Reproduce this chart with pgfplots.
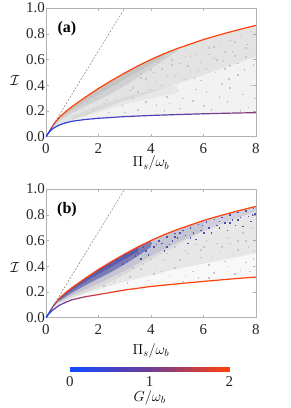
\documentclass[border=0pt]{standalone}
\usepackage{fix-cm}
\usepackage{fontspec}
\setmainfont{Liberation Serif}
\usepackage{pgfplots}
\pgfplotsset{compat=1.18}
\pgfplotsset{
  colormap={gb}{rgb255(0)=(20,75,255) rgb255(1)=(110,60,150) rgb255(2)=(255,65,10)},
  common/.style={scale only axis, width=210pt, height=128.7pt, anchor=south west,
    xmin=0, xmax=8, ymin=0, ymax=1,
    xtick={0,2,4,6,8}, ytick={0,0.2,0.4,0.6,0.8,1},
    y tick label style={/pgf/number format/.cd, fixed, fixed zerofill, precision=1, /tikz/.cd},
    /pgf/number format/assume math mode=true,
    tick label style={font=\fontsize{15}{17}\selectfont, text=black!85, inner sep=1pt},
    xticklabel style={yshift=-6pt},
    label style={font=\fontsize{14.5}{17}\selectfont},
    axis line style={gray!60}, tick style={gray!60, line width=0.4pt},
    tick align=inside, major tick length=3pt,
    point meta min=0, point meta max=2, colormap name=gb,
    xlabel={$\Pi_s/\omega_b$}, ylabel={$\mathcal{I}$},
  },
  gdot/.style={only marks, mark=square*, mark size=0.3pt, color=gray!45},
  bdot/.style={only marks, mark=square*, mark size=0.28pt, color=dblue!80},
  curve/.style={mesh, point meta=explicit, line width=1.2pt, line cap=round},
}
\definecolor{dblue}{RGB}{35,35,150}
\begin{document}
\begin{tikzpicture}
\path[use as bounding box] (0,0) rectangle (290pt,408pt);
% ---------------- panel (a)
\begin{axis}[common, at={(46pt,271.3pt)},
  xlabel style={at={(axis description cs:0.5,-0.207)}, anchor=center},
  ylabel style={at={(axis description cs:-0.148,0.44)}, rotate=-90, anchor=center}]
\addplot[fill=gray, fill opacity=0.10, draw=none] coordinates {(0,0)(0.1,0.033)(0.2,0.066)(0.3,0.097)(0.4,0.124)(0.5,0.148)(0.6,0.168)(0.75,0.195)(1,0.235)(1.5,0.307)(2,0.375)(2.5,0.437)(3,0.495)(3.5,0.55)(4,0.6)(4.5,0.645)(5,0.685)(5.5,0.72)(6,0.755)(6.5,0.785)(7,0.813)(7.5,0.84)(8,0.865)
 (8,0.187)(7,0.183)(6,0.178)(5,0.172)(4,0.165)(3,0.156)(2,0.143)(1.5,0.134)(1,0.12)(0.75,0.108)(0.5,0.09)(0.3,0.068)(0.2,0.052)(0.1,0.03)(0,0)};
\addplot[fill=gray, fill opacity=0.13, draw=none] coordinates {(0.3,0.097)(0.4,0.124)(0.5,0.148)(0.6,0.168)(0.75,0.195)(1,0.235)(1.5,0.307)(2,0.375)(2.5,0.437)(3,0.495)(3.5,0.55)(4,0.6)(4.5,0.645)(5,0.685)(5.5,0.72)(6,0.755)(6.5,0.785)(7,0.813)(7.5,0.84)(8,0.865)
 (8,0.62)(7,0.55)(6,0.48)(5,0.41)(4,0.345)(3,0.28)(2.5,0.245)(2,0.205)(1.5,0.165)(1,0.13)(0.5,0.092)(0.3,0.07)};
\addplot[fill=gray, fill opacity=0.18, draw=none] coordinates {(0.3,0.097)(0.4,0.124)(0.5,0.148)(0.6,0.168)(0.75,0.195)(1,0.235)(1.5,0.307)(2,0.375)(2.5,0.437)(3,0.495)(3.5,0.55)(4,0.6)(4.5,0.645)(5,0.685)
 (5,0.665)(4.5,0.595)(4,0.53)(3.5,0.46)(3,0.395)(2.5,0.337)(2,0.285)(1.5,0.237)(1,0.185)(0.5,0.123)(0.3,0.087)};
\addplot[fill=gray, fill opacity=0.16, draw=none] coordinates {(0.3,0.097)(0.4,0.124)(0.5,0.148)(0.6,0.168)(0.75,0.195)(1,0.235)(1.5,0.307)(2,0.375)(2.5,0.437)(3,0.495)(3.5,0.55)(4,0.6)(4.5,0.645)
 (4.5,0.62)(4,0.565)(3.5,0.505)(3,0.445)(2.5,0.387)(2,0.33)(1.5,0.272)(1,0.21)(0.5,0.135)(0.3,0.092)};
\addplot[fill=gray, fill opacity=0.10, draw=none] coordinates {(1,0.13)(2,0.19)(3,0.25)(4,0.30)(5,0.34)(5,0.40)(4,0.36)(3,0.31)(2,0.24)(1,0.16)};
\addplot[gdot] coordinates {(4.2,0.25)(4.6,0.31)(5.1,0.22)(5.3,0.45)(5.6,0.28)(5.8,0.52)(6.1,0.35)(6.3,0.21)(6.5,0.60)(6.7,0.41)(6.9,0.27)(7.1,0.66)(7.3,0.48)(7.5,0.33)(7.7,0.23)(7.9,0.56)(7.2,0.74)(6.4,0.70)(5.5,0.63)(4.8,0.56)(4.4,0.40)(3.8,0.27)(3.5,0.21)(3.2,0.36)(2.9,0.24)(2.6,0.30)(2.4,0.19)(3.6,0.46)(4.0,0.52)(5.0,0.36)(5.9,0.44)(6.8,0.53)(7.6,0.62)(7.8,0.40)(7.4,0.20)(6.0,0.24)(5.2,0.30)(4.5,0.20)(3.0,0.19)(2.2,0.26)(1.8,0.21)(6.6,0.31)(7.0,0.38)(5.7,0.37)(4.9,0.47)(4.3,0.58)(3.9,0.43)(3.3,0.30)(6.2,0.64)(7.85,0.78)(7.95,0.30)(7.3,0.57)(6.95,0.45)(5.4,0.55)(4.7,0.26)(2.7,0.41)(3.4,0.50)(6.45,0.50)(5.95,0.69)(7.65,0.72)
 (1.6,0.27)(1.9,0.30)(2.1,0.33)(2.3,0.28)(2.5,0.36)(2.8,0.40)(3.1,0.43)(3.3,0.38)(3.6,0.49)(3.8,0.45)(4.1,0.50)(4.4,0.53)(4.6,0.47)(4.8,0.60)(5.1,0.57)(5.3,0.62)(5.5,0.51)(5.7,0.64)(5.9,0.58)(6.2,0.69)(6.4,0.61)(6.6,0.72)(6.8,0.66)(7.0,0.75)(7.2,0.63)(7.4,0.78)(7.6,0.69)(7.8,0.82)(7.9,0.64)(6.1,0.53)(7.0,0.55)(5.0,0.50)(4.2,0.44)(3.5,0.35)(2.9,0.33)(7.55,0.52)(6.75,0.59)(5.65,0.46)(4.65,0.40)(3.95,0.37)};
\addplot[gray, dash pattern=on 2pt off 1.5pt, line width=0.5pt] coordinates {(0,0) (3,1)};
\addplot[curve] coordinates {(0,0)[1](0.1,0.033)[1.2](0.2,0.066)[1.4](0.3,0.097)[1.6](0.4,0.124)[1.8](0.5,0.148)[1.9](0.6,0.168)[1.95](0.75,0.195)[2](1,0.235)[2](1.5,0.307)[2](2,0.375)[2](2.5,0.437)[2](3,0.495)[2](3.5,0.55)[2](4,0.6)[2](4.5,0.645)[2](5,0.685)[2](5.5,0.72)[2](6,0.755)[2](6.5,0.785)[2](7,0.813)[2](7.5,0.84)[2](8,0.865)[2]};
\addplot[curve] coordinates {(0,0)[0](0.1,0.03)[0.05](0.2,0.052)[0.1](0.3,0.068)[0.14](0.5,0.09)[0.2](0.75,0.108)[0.28](1,0.12)[0.35](1.5,0.134)[0.43](2,0.143)[0.5](3,0.156)[0.6](4,0.165)[0.7](5,0.172)[0.85](6,0.178)[1.0](7,0.183)[1.1](8,0.187)[1.2]};
\node[font=\bfseries\fontsize{16}{18}\selectfont] at (axis cs:0.8,0.84) {(a)};
\end{axis}
% ---------------- panel (b)
\begin{axis}[common, at={(46pt,90.3pt)},
  xlabel style={at={(axis description cs:0.5,-0.255)}, anchor=center},
  ylabel style={at={(axis description cs:-0.148,0.386)}, rotate=-90, anchor=center}]
\addplot[fill=gray, fill opacity=0.06, draw=none] coordinates {(0.3,0.097)(0.4,0.124)(0.5,0.148)(0.6,0.168)(0.75,0.195)(1,0.235)(1.5,0.307)(2,0.375)(2.5,0.437)(3,0.495)(3.5,0.55)(4,0.6)(4.5,0.645)(5,0.685)(5.5,0.72)(6,0.755)(6.5,0.785)(7,0.813)(7.5,0.84)(8,0.865)
 (8,0.316)(7,0.3)(6,0.282)(5,0.263)(4,0.243)(3,0.215)(2,0.18)(1.5,0.163)(1,0.14)(0.75,0.12)(0.5,0.095)(0.3,0.07)};
\addplot[fill=gray, fill opacity=0.14, draw=none] coordinates {(0.3,0.097)(0.4,0.124)(0.5,0.148)(0.6,0.168)(0.75,0.195)(1,0.235)(1.5,0.307)(2,0.375)(2.5,0.437)(3,0.495)(3.5,0.55)(4,0.6)(4.5,0.645)(5,0.685)(5.5,0.72)(6,0.755)(6.5,0.785)(7,0.813)(7.5,0.84)(8,0.865)
 (8,0.5)(7,0.46)(6,0.42)(5,0.38)(4,0.33)(3,0.28)(2,0.22)(1.5,0.19)(1,0.155)(0.5,0.105)(0.3,0.075)};
\addplot[fill=gray, fill opacity=0.12, draw=none] coordinates {(0.5,0.148)(0.6,0.168)(0.75,0.195)(1,0.235)(1.5,0.307)(2,0.375)(2.5,0.437)(3,0.495)(3.5,0.55)(4,0.6)(4.5,0.645)(5,0.685)(5.5,0.72)(6,0.755)
 (6,0.675)(5,0.565)(4,0.45)(3,0.335)(2,0.235)(1.5,0.197)(1,0.155)(0.5,0.118)};
\addplot[fill=dblue, fill opacity=0.12, draw=none] coordinates {(0.5,0.148)(0.6,0.168)(0.75,0.195)(1,0.235)(1.5,0.307)(2,0.375)(2.5,0.437)(3,0.495)(3.5,0.55)(4,0.6)(4.5,0.645)(5,0.685)(5.5,0.72)(6,0.755)(6.5,0.785)(7,0.813)(7.5,0.84)(8,0.865)
 (8,0.825)(7,0.753)(6,0.675)(5,0.585)(4,0.48)(3,0.365)(2,0.265)(1,0.175)(0.5,0.123)};
\addplot[fill=dblue, fill opacity=0.45, draw=none] coordinates {(0.3,0.097)(0.4,0.124)(0.5,0.148)(0.6,0.168)(0.75,0.195)(1,0.235)(1.5,0.307)(2,0.375)(2.5,0.437)(3,0.495)(3.5,0.55)(4,0.6)
 (4,0.55)(3.5,0.48)(3,0.415)(2.5,0.357)(2,0.305)(1.5,0.252)(1,0.195)(0.5,0.13)(0.3,0.089)};
\addplot[fill=dblue, fill opacity=0.35, draw=none] coordinates {(0.5,0.148)(0.6,0.168)(0.75,0.195)(1,0.235)(1.5,0.307)(2,0.375)(2.5,0.437)(3,0.495)(3.5,0.55)
 (3.5,0.515)(3,0.455)(2.5,0.397)(2,0.34)(1.5,0.28)(1,0.215)(0.5,0.139)};
\addplot[gdot] coordinates {(3.2,0.32)(3.6,0.38)(4.1,0.34)(4.5,0.45)(4.9,0.39)(5.3,0.52)(5.6,0.36)(5.9,0.47)(6.2,0.41)(6.5,0.58)(6.8,0.44)(7.1,0.50)(7.4,0.37)(7.7,0.55)(7.9,0.46)(7.5,0.66)(6.9,0.62)(6.0,0.55)(5.0,0.60)(4.3,0.52)(2.6,0.28)(2.2,0.25)(3.9,0.29)(5.8,0.31)(7.2,0.34)(7.95,0.40)(6.4,0.35)(4.7,0.33)(7.85,0.70)(7.3,0.60)(6.6,0.51)(5.5,0.44)(2.9,0.36)(3.4,0.44)(4.0,0.46)(6.1,0.68)(7.6,0.43)(5.2,0.28)
 (2.3,0.31)(2.8,0.33)(3.3,0.39)(3.7,0.42)(4.2,0.40)(4.6,0.50)(5.1,0.45)(5.4,0.50)(5.9,0.53)(6.3,0.47)(6.7,0.55)(7.0,0.58)(7.3,0.53)(7.6,0.60)(7.9,0.52)(6.1,0.60)(5.7,0.57)(4.9,0.55)(4.4,0.36)(3.1,0.27)(6.9,0.40)(7.75,0.36)(5.3,0.33)(6.2,0.31)};
\addplot[bdot] coordinates {(2.1,0.38)(2.4,0.41)(2.7,0.45)(3.0,0.49)(3.1,0.44)(3.3,0.51)(3.5,0.50)(3.7,0.55)(3.8,0.52)(4.0,0.58)(4.1,0.55)(4.3,0.60)(4.4,0.58)(4.6,0.63)(4.7,0.57)(4.9,0.655)(5.0,0.62)(5.2,0.68)(5.3,0.64)(5.5,0.70)(5.6,0.66)(5.8,0.725)(5.9,0.68)(6.1,0.745)(6.2,0.70)(6.4,0.765)(6.5,0.72)(6.7,0.78)(6.8,0.74)(7.0,0.80)(7.1,0.76)(7.3,0.82)(7.4,0.78)(7.6,0.83)(7.7,0.79)(7.9,0.85)(7.95,0.81)(6.3,0.66)(5.4,0.58)(4.5,0.52)(7.5,0.71)(6.9,0.68)(3.6,0.46)(5.7,0.61)(7.8,0.75)(4.8,0.60)(6.6,0.75)(7.2,0.72)(5.1,0.66)(4.2,0.57)
 (3.9,0.49)(4.6,0.55)(5.5,0.62)(6.0,0.66)(6.6,0.70)(7.3,0.76)(7.85,0.80)(4.9,0.63)(5.95,0.72)(7.0,0.74)(2.9,0.42)(3.4,0.48)};
\addplot[gray, dash pattern=on 2pt off 1.5pt, line width=0.5pt] coordinates {(0,0) (3,1)};
\addplot[curve] coordinates {(0,0)[0.4](0.1,0.033)[0.7](0.2,0.066)[1.0](0.3,0.097)[1.3](0.4,0.124)[1.6](0.5,0.148)[1.8](0.6,0.168)[1.9](0.75,0.195)[2](1,0.235)[2](1.5,0.307)[2](2,0.375)[2](2.5,0.437)[2](3,0.495)[2](3.5,0.55)[2](4,0.6)[2](4.5,0.645)[2](5,0.685)[2](5.5,0.72)[2](6,0.755)[2](6.5,0.785)[2](7,0.813)[2](7.5,0.84)[2](8,0.865)[2]};
\addplot[curve] coordinates {(0,0)[0](0.1,0.028)[0.2](0.25,0.058)[0.5](0.5,0.095)[0.8](0.75,0.12)[1.0](1,0.14)[1.15](1.5,0.163)[1.4](2,0.18)[1.65](3,0.215)[1.95](4,0.243)[2](5,0.263)[2](6,0.282)[2](7,0.3)[2](8,0.316)[2]};
\node[font=\bfseries\fontsize{16}{18}\selectfont] at (axis cs:0.8,0.84) {(b)};
\end{axis}
% ---------------- colour bar
\begin{axis}[at={(70pt,36.5pt)}, anchor=south west, scale only axis, width=159.3pt, height=4.5pt,
  xmin=0, xmax=2, ymin=0, ymax=1, ytick=\empty, xtick={0,1,2},
  axis line style={draw=none}, tick style={draw=none},
  /pgf/number format/assume math mode=true,
  tick label style={font=\fontsize{15}{17}\selectfont, text=black!85, inner sep=1pt, yshift=-4pt},
  label style={font=\fontsize{14.5}{17}\selectfont},
  xlabel={$G/\omega_b$},
  xlabel style={at={(axis description cs:0.5,0)}, yshift=-26.5pt, anchor=center},
  colormap name=gb, point meta min=0, point meta max=2]
\addplot[surf, shader=interp, point meta=x, mesh/rows=2] coordinates {(0,0)(0.5,0)(1,0)(1.5,0)(2,0)(0,1)(0.5,1)(1,1)(1.5,1)(2,1)};
\end{axis}
\end{tikzpicture}
\end{document}
